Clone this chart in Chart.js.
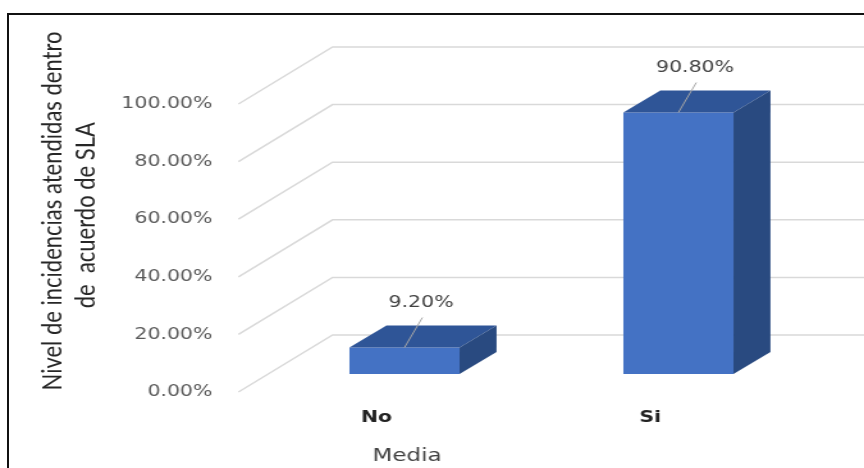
<!DOCTYPE html>
<html>
<head>
<meta charset="utf-8">
<script src="https://cdn.jsdelivr.net/npm/chart.js@4.4.0/dist/chart.umd.min.js"></script>
<style>
  html, body { margin: 0; padding: 0; background: #fff; }
  body { width: 864px; height: 468px; overflow: hidden; position: relative; }
  .frame { position: absolute; left: 7px; top: 13px; width: 900px; height: 500px; border: 2px solid #111; }
  /* the source picture is stretched sideways, so the canvas is too */
  #chart { position: absolute; left: 0; top: 0; transform: scaleX(1.28); transform-origin: 0 0; }
</style>
</head>
<body>
<div class="frame"></div>
<canvas id="chart" width="675" height="468"></canvas>
<script>
const categories = ["No", "Si"];
const values = [9.2, 90.8];
const yTicks = [0, 20, 40, 60, 80, 100];
const yTitle = ["Nivel de incidencias atendidas dentro", " de  acuerdo de SLA"];
const xTitle = "Media";

const FONT = '"DejaVu Sans", Verdana, sans-serif';
// offsets from the bar front plane (front wall, back wall, bar depth)
const depth = { front: [-22.7, 18], back: [50.8, -39], bar: [28.9, -22] };

const depth3d = {
  id: "depth3d",
  beforeDatasetsDraw(chart) {
    const { ctx, chartArea, scales } = chart;
    const y = scales.y;
    ctx.save();
    ctx.strokeStyle = "#d9d9d9";
    ctx.lineWidth = 1.5;
    y.ticks.forEach((t) => {
      const py = y.getPixelForValue(t.value);
      ctx.beginPath();
      ctx.moveTo(chartArea.left + depth.front[0], py + depth.front[1]);
      ctx.lineTo(chartArea.left + depth.back[0], py + depth.back[1]);
      ctx.lineTo(chart.width, py + depth.back[1]);
      ctx.stroke();
    });
    ctx.restore();
  },
  afterDatasetsDraw(chart) {
    const { ctx } = chart;
    const [dx, dy] = depth.bar;
    ctx.save();
    chart.getDatasetMeta(0).data.forEach((bar, i) => {
      const { x, y, base, width } = bar.getProps(["x", "y", "base", "width"], true);
      const l = x - width / 2;
      const r = x + width / 2;

      ctx.fillStyle = "#2f5597";
      ctx.beginPath();
      ctx.moveTo(l, y);
      ctx.lineTo(l + dx, y + dy);
      ctx.lineTo(r + dx, y + dy);
      ctx.lineTo(r, y);
      ctx.closePath();
      ctx.fill();

      ctx.fillStyle = "#294a80";
      ctx.beginPath();
      ctx.moveTo(r, y);
      ctx.lineTo(r + dx, y + dy);
      ctx.lineTo(r + dx, base + dy);
      ctx.lineTo(r, base);
      ctx.closePath();
      ctx.fill();

      // leader line + value label
      ctx.strokeStyle = "#a6a6a6";
      ctx.lineWidth = 1;
      ctx.beginPath();
      ctx.moveTo(x + 14, y - 30);
      ctx.lineTo(x, y);
      ctx.stroke();

      ctx.fillStyle = "#404040";
      ctx.font = "16px " + FONT;
      ctx.textAlign = "center";
      ctx.textBaseline = "middle";
      ctx.fillText(values[i].toFixed(2) + "%", x + 13, y - 45);
    });
    ctx.restore();
  },
  afterDraw(chart) {
    const { ctx } = chart;
    ctx.save();
    ctx.fillStyle = "#404040";
    ctx.font = "18px " + FONT;
    ctx.textAlign = "center";
    ctx.textBaseline = "middle";
    ctx.fillText(xTitle, 318, 456);

    ctx.fillStyle = "#262626";
    ctx.font = '22px Lato, "Noto Sans", sans-serif';
    const pos = [[40.6, 211], [67.2, 218]];
    yTitle.forEach((line, i) => {
      ctx.save();
      ctx.translate(pos[i][0], pos[i][1]);
      ctx.rotate(-Math.PI / 2);
      ctx.fillText(line, 0, 0);
      ctx.restore();
    });
    ctx.restore();
  },
};

new Chart(document.getElementById("chart"), {
  type: "bar",
  data: {
    labels: categories,
    datasets: [
      {
        data: values,
        backgroundColor: "#4472c4",
        borderWidth: 0,
        categoryPercentage: 1,
        barPercentage: 0.402,
      },
    ],
  },
  options: {
    responsive: false,
    animation: false,
    layout: { padding: { top: 86, right: 38, left: 0, bottom: 0 } },
    plugins: { legend: { display: false }, tooltip: { enabled: false } },
    scales: {
      x: {
        grid: { display: false, drawTicks: false },
        border: { display: false },
        ticks: {
          padding: 34,
          labelOffset: -21.9,
          color: "#222",
          font: { family: FONT, size: 16, weight: "bold" },
        },
        afterFit: (s) => { s.height = 94; },
      },
      y: {
        min: 0,
        max: 100,
        grid: { display: false, drawTicks: false },
        border: { display: false },
        afterBuildTicks: (s) => { s.ticks = yTicks.map((v) => ({ value: v })); },
        ticks: {
          padding: 43,
          labelOffset: 18,
          color: "#595959",
          font: { family: FONT, size: 16 },
          callback: (v) => Number(v).toFixed(2) + "%",
        },
        afterFit: (s) => { s.width = 209; },
      },
    },
  },
  plugins: [depth3d],
});
</script>
</body>
</html>
